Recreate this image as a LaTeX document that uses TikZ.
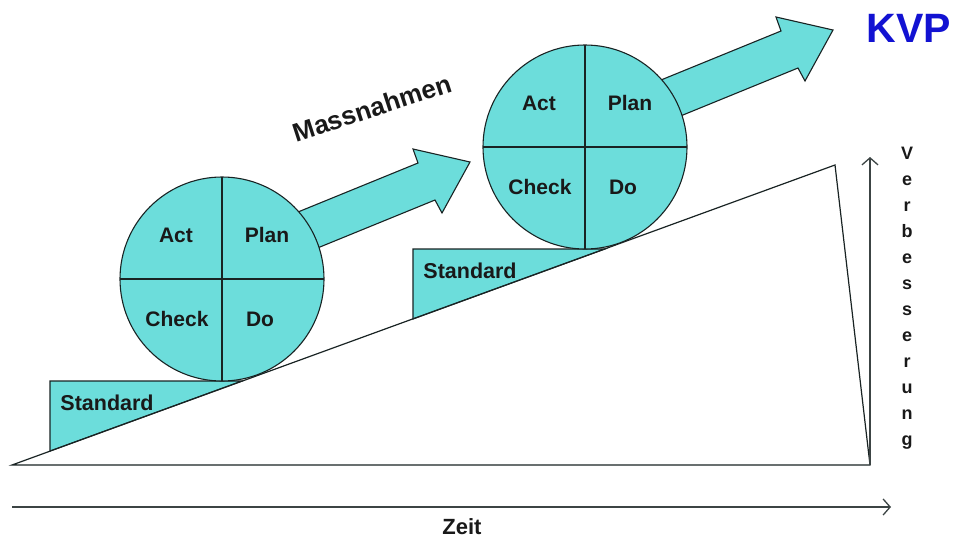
\documentclass[tikz,border=0pt]{standalone}
\usepackage{fontspec}
\setmainfont{Liberation Sans}
\usetikzlibrary{arrows.meta}
\definecolor{tq}{RGB}{108,221,219}
\definecolor{kvpblue}{RGB}{18,18,210}
\definecolor{ln}{RGB}{25,35,35}
\begin{document}
\begin{tikzpicture}[x=1pt,y=-1pt, line width=1.1pt,
  shapefill/.style={fill=tq, draw=ln, line join=miter},
  lbl/.style={font=\bfseries\fontsize{21}{25}\selectfont, text=black!90, inner sep=0pt},
  pdca/.style={circle, draw=ln, fill=tq, minimum size=204pt, inner sep=0pt, outer sep=0pt},
  axisarrow/.style={draw=ln!85, line width=1.3pt, -{Straight Barb[length=7pt,width=16pt,line width=1.3pt]}}
]
\useasboundingbox (0,0) rectangle (953,539);

% standards
\foreach \i/\dx/\dy in {1/0/0, 2/363/-132}{
  \begin{scope}[shift={(222+\dx,279+\dy)}]
    \filldraw[shapefill] (-172,102) -- (20,102) -- (-172,172) -- cycle;
  \end{scope}
}

% ramp
\coordinate (r0) at (12,465);
\coordinate (r1) at (835,165);
\coordinate (r2) at (870,465);
\draw[draw=ln, line width=1.2pt, line join=miter, fill=none] (r0) -- (r1) -- (r2) -- cycle;

% arrows, PDCA circles, labels
\foreach \i/\dx/\dy in {1/0/0, 2/363/-132}{
  \begin{scope}[shift={(222+\dx,279+\dy)}]
    \filldraw[shapefill] (0,-36) -- (196,-116) -- (191,-130) -- (248,-117)
       -- (220,-66) -- (213,-79) -- (0,8) -- cycle;
    \node[pdca] (c\i) at (0,0) {};
    \draw[draw=ln] (c\i.north) -- (c\i.south);
    \draw[draw=ln] (c\i.west) -- (c\i.east);
    \node[lbl] (act\i) at (-46,-44) {Act};
    \node[lbl] (plan\i) at (45,-44) {Plan};
    \node[lbl] (check\i) at (-45,40) {Check};
    \node[lbl] (do\i) at (38,40) {Do};
    \node[lbl, font=\bfseries\fontsize{21.5}{25}\selectfont] (std\i) at (-115,124) {Standard};
  \end{scope}
}

% Massnahmen
\node[lbl, font=\bfseries\fontsize{26}{30}\selectfont, rotate=18] (mass) at (372,108) {Massnahmen};

% KVP
\node[inner sep=0pt, text=kvpblue, font=\bfseries\fontsize{41}{48}\selectfont] (kvp) at (909,28) {KVP};

% axes
\coordinate (v0) at (870,465);
\coordinate (v1) at (870,157);
\draw[axisarrow] (v0) -- (v1);
\coordinate (h0) at (12,507);
\coordinate (h1) at (891,507);
\draw[axisarrow] (h0) -- (h1);

\node[lbl, font=\bfseries\fontsize{22}{26}\selectfont] (zeit) at (462,527) {Zeit};
\node[inner sep=0pt, anchor=north, align=center, text=black!90,
      font=\bfseries\fontsize{18}{26}\selectfont] (verb) at (907,147)
      {V\\e\\r\\b\\e\\s\\s\\e\\r\\u\\n\\g};
\end{tikzpicture}
\end{document}
